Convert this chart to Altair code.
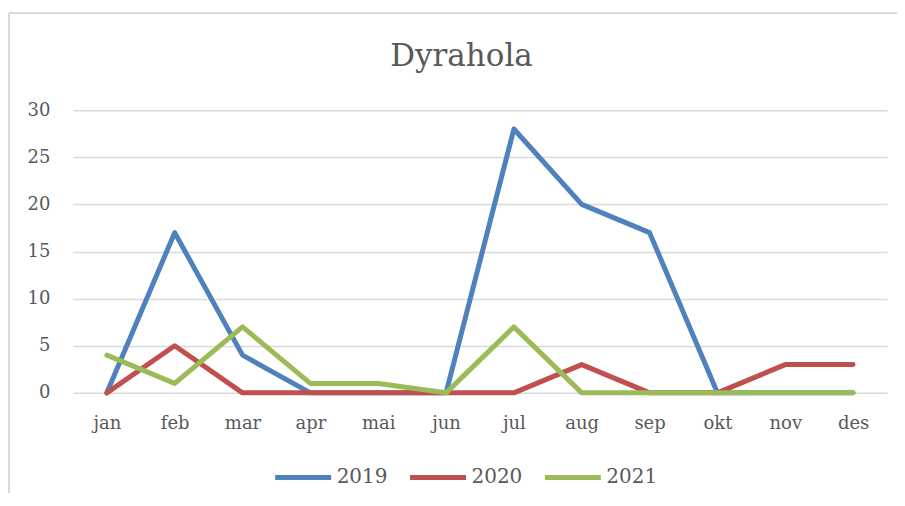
import altair as alt
import pandas as pd

months = ["jan", "feb", "mar", "apr", "mai", "jun", "jul", "aug", "sep", "okt", "nov", "des"]
v2019 = [0, 17, 4, 0, 0, 0, 28, 20, 17, 0, 0, 0]
v2020 = [0, 5, 0, 0, 0, 0, 0, 3, 0, 0, 3, 3]
v2021 = [4, 1, 7, 1, 1, 0, 7, 0, 0, 0, 0, 0]
series = ["2019", "2020", "2021"]
colors = ["#4f81bd", "#c0504d", "#9bbb59"]
title_text = "Dyrahola"

rows = []
for name, vals in zip(series, [v2019, v2020, v2021]):
    for m, v in zip(months, vals):
        rows.append({"month": m, "value": v, "series": name})
df = pd.DataFrame(rows)

FONT = "DejaVu Serif"
TXT = "#595959"

lines = alt.Chart(df).mark_line(strokeWidth=5, strokeCap="round", strokeJoin="round").encode(
    x=alt.X("month:N", sort=months, scale=alt.Scale(type="point", padding=0.5),
            axis=alt.Axis(title=None, labelAngle=0, ticks=False, domain=False, grid=False,
                          labelFontSize=18, labelPadding=22, labelColor=TXT, labelFont=FONT)),
    y=alt.Y("value:Q", scale=alt.Scale(domain=[0, 30], nice=False),
            axis=alt.Axis(title=None, values=[0, 5, 10, 15, 20, 25, 30], ticks=False, domain=False,
                          gridColor="#d9d9d9", gridWidth=1.5,
                          labelFontSize=18, labelPadding=23, labelColor=TXT, labelFont=FONT)),
    color=alt.Color("series:N", sort=series, scale=alt.Scale(domain=series, range=colors),
                    legend=alt.Legend(title=None, orient="none", direction="horizontal",
                                      legendX=200, legendY=337,
                                      symbolType="stroke", symbolSize=3136, symbolStrokeWidth=5,
                                      labelFontSize=20, labelColor=TXT, labelFont=FONT,
                                      columnPadding=12, labelOffset=3)),
)

title = alt.Chart(pd.DataFrame({"t": [title_text]})).mark_text(
    font=FONT, fontSize=31, color=TXT, align="center", baseline="middle"
).encode(text="t:N", x=alt.value(389), y=alt.value(-53))

frame_top = alt.Chart(df).mark_rule(color="#d9d9d9", strokeWidth=1.5).encode(
    x=alt.value(-64), x2=alt.value(900), y=alt.value(-97))
frame_left = alt.Chart(df).mark_rule(color="#d9d9d9", strokeWidth=1.5).encode(
    x=alt.value(-64), y=alt.value(-97), y2=alt.value(400))

chart = alt.layer(frame_top, frame_left, title, lines).properties(
    width=815, height=283,
    autosize=alt.AutoSizeParams(type="none"),
    padding={"left": 65, "top": 102, "right": 10, "bottom": 100},
).configure_view(stroke=None)

chart.save("out.html", embed_options={"renderer": "svg", "actions": False})
